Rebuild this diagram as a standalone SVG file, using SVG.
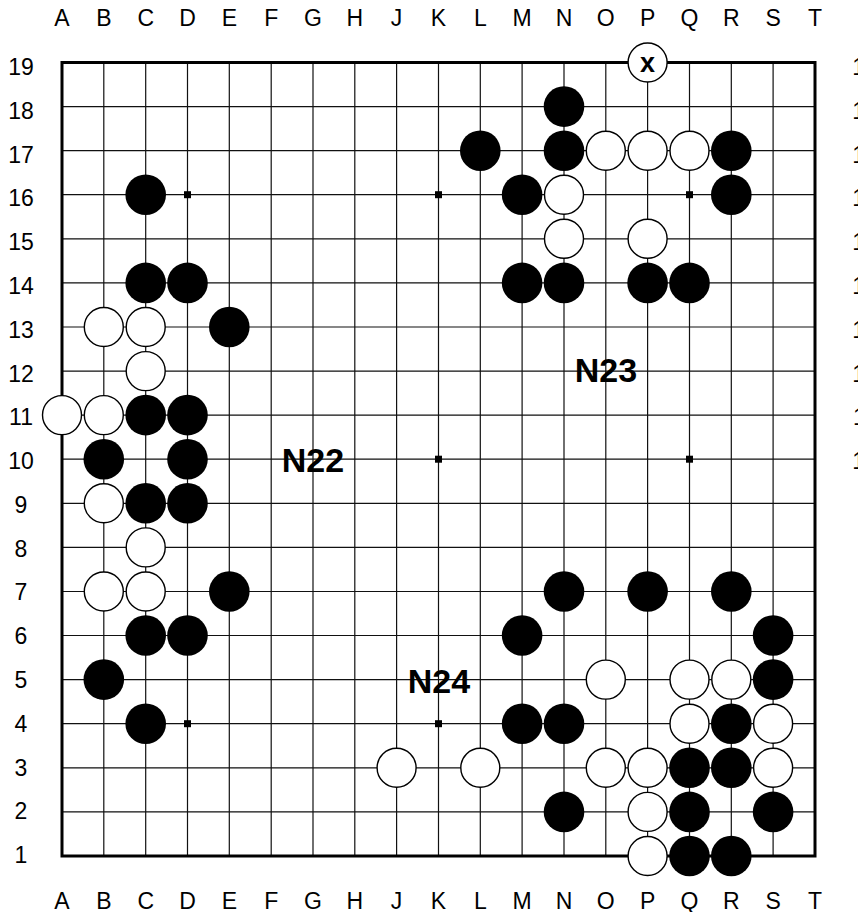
<svg xmlns="http://www.w3.org/2000/svg" width="858" height="912" viewBox="0 0 858 912">
<style>
.g{stroke:#111;stroke-width:1.2;fill:none}
.bd{stroke:#000;stroke-width:3;fill:none}
.b{fill:#000}
.w{fill:#fff;stroke:#000;stroke-width:1.4}
.c{font-family:"Liberation Sans",Arial,sans-serif;font-size:23px;fill:#000;text-anchor:middle}
.lb{font-family:"Liberation Sans",Arial,sans-serif;font-size:34px;font-weight:bold;fill:#000;text-anchor:middle}
.x{font-family:"Liberation Sans",Arial,sans-serif;font-size:27px;font-weight:bold;fill:#000;text-anchor:middle}
</style>
<rect width="858" height="912" fill="#fff"/>
<g id="grid" class="g">
<path d="M103.8 62.5V856M145.7 62.5V856M187.5 62.5V856M229.3 62.5V856M271.2 62.5V856M313 62.5V856M354.8 62.5V856M396.6 62.5V856M438.5 62.5V856M480.3 62.5V856M522.1 62.5V856M564 62.5V856M605.8 62.5V856M647.6 62.5V856M689.5 62.5V856M731.3 62.5V856M773.1 62.5V856"/>
<path d="M62 106.6H815M62 150.7H815M62 194.7H815M62 238.8H815M62 282.9H815M62 327H815M62 371.1H815M62 415.1H815M62 459.2H815M62 503.3H815M62 547.4H815M62 591.5H815M62 635.5H815M62 679.6H815M62 723.7H815M62 767.8H815M62 811.9H815"/>
</g>
<rect id="border" class="bd" x="62" y="62.5" width="753" height="793.5"/>
<g id="hoshi" class="b">
<rect x="184" y="191.2" width="7" height="7"/>
<rect x="435" y="191.2" width="7" height="7"/>
<rect x="686" y="191.2" width="7" height="7"/>
<rect x="184" y="455.7" width="7" height="7"/>
<rect x="435" y="455.7" width="7" height="7"/>
<rect x="686" y="455.7" width="7" height="7"/>
<rect x="184" y="720.2" width="7" height="7"/>
<rect x="435" y="720.2" width="7" height="7"/>
<rect x="686" y="720.2" width="7" height="7"/>
</g>
<g id="black-stones" class="b">
<circle cx="564" cy="106.6" r="20.3"/>
<circle cx="480.3" cy="150.7" r="20.3"/>
<circle cx="564" cy="150.7" r="20.3"/>
<circle cx="731.3" cy="150.7" r="20.3"/>
<circle cx="145.7" cy="194.7" r="20.3"/>
<circle cx="522.1" cy="194.7" r="20.3"/>
<circle cx="731.3" cy="194.7" r="20.3"/>
<circle cx="145.7" cy="282.9" r="20.3"/>
<circle cx="187.5" cy="282.9" r="20.3"/>
<circle cx="522.1" cy="282.9" r="20.3"/>
<circle cx="564" cy="282.9" r="20.3"/>
<circle cx="647.6" cy="282.9" r="20.3"/>
<circle cx="689.5" cy="282.9" r="20.3"/>
<circle cx="229.3" cy="327" r="20.3"/>
<circle cx="145.7" cy="415.1" r="20.3"/>
<circle cx="187.5" cy="415.1" r="20.3"/>
<circle cx="103.8" cy="459.2" r="20.3"/>
<circle cx="187.5" cy="459.2" r="20.3"/>
<circle cx="145.7" cy="503.3" r="20.3"/>
<circle cx="187.5" cy="503.3" r="20.3"/>
<circle cx="229.3" cy="591.5" r="20.3"/>
<circle cx="564" cy="591.5" r="20.3"/>
<circle cx="647.6" cy="591.5" r="20.3"/>
<circle cx="731.3" cy="591.5" r="20.3"/>
<circle cx="145.7" cy="635.5" r="20.3"/>
<circle cx="187.5" cy="635.5" r="20.3"/>
<circle cx="522.1" cy="635.5" r="20.3"/>
<circle cx="773.1" cy="635.5" r="20.3"/>
<circle cx="103.8" cy="679.6" r="20.3"/>
<circle cx="773.1" cy="679.6" r="20.3"/>
<circle cx="145.7" cy="723.7" r="20.3"/>
<circle cx="522.1" cy="723.7" r="20.3"/>
<circle cx="564" cy="723.7" r="20.3"/>
<circle cx="731.3" cy="723.7" r="20.3"/>
<circle cx="689.5" cy="767.8" r="20.3"/>
<circle cx="731.3" cy="767.8" r="20.3"/>
<circle cx="564" cy="811.9" r="20.3"/>
<circle cx="689.5" cy="811.9" r="20.3"/>
<circle cx="773.1" cy="811.9" r="20.3"/>
<circle cx="689.5" cy="856" r="20.3"/>
<circle cx="731.3" cy="856" r="20.3"/>
</g>
<g id="white-stones" class="w">
<circle cx="647.6" cy="62.5" r="19.5"/>
<circle cx="605.8" cy="150.7" r="19.5"/>
<circle cx="647.6" cy="150.7" r="19.5"/>
<circle cx="689.5" cy="150.7" r="19.5"/>
<circle cx="564" cy="194.7" r="19.5"/>
<circle cx="564" cy="238.8" r="19.5"/>
<circle cx="647.6" cy="238.8" r="19.5"/>
<circle cx="103.8" cy="327" r="19.5"/>
<circle cx="145.7" cy="327" r="19.5"/>
<circle cx="145.7" cy="371.1" r="19.5"/>
<circle cx="62" cy="415.1" r="19.5"/>
<circle cx="103.8" cy="415.1" r="19.5"/>
<circle cx="103.8" cy="503.3" r="19.5"/>
<circle cx="145.7" cy="547.4" r="19.5"/>
<circle cx="103.8" cy="591.5" r="19.5"/>
<circle cx="145.7" cy="591.5" r="19.5"/>
<circle cx="605.8" cy="679.6" r="19.5"/>
<circle cx="689.5" cy="679.6" r="19.5"/>
<circle cx="731.3" cy="679.6" r="19.5"/>
<circle cx="689.5" cy="723.7" r="19.5"/>
<circle cx="773.1" cy="723.7" r="19.5"/>
<circle cx="396.6" cy="767.8" r="19.5"/>
<circle cx="480.3" cy="767.8" r="19.5"/>
<circle cx="605.8" cy="767.8" r="19.5"/>
<circle cx="647.6" cy="767.8" r="19.5"/>
<circle cx="773.1" cy="767.8" r="19.5"/>
<circle cx="647.6" cy="811.9" r="19.5"/>
<circle cx="647.6" cy="856" r="19.5"/>
</g>
<text class="x" x="647.6" y="72">x</text>
<g id="labels">
<text class="lb" x="313" y="471.5">N22</text>
<text class="lb" x="606" y="381.7">N23</text>
<text class="lb" x="439" y="692.5">N24</text>
</g>
<g id="coords-top" class="c">
<text x="62" y="26">A</text><text x="103.8" y="26">B</text><text x="145.7" y="26">C</text><text x="187.5" y="26">D</text><text x="229.3" y="26">E</text><text x="271.2" y="26">F</text><text x="313" y="26">G</text><text x="354.8" y="26">H</text><text x="396.6" y="26">J</text><text x="438.5" y="26">K</text><text x="480.3" y="26">L</text><text x="522.1" y="26">M</text><text x="564" y="26">N</text><text x="605.8" y="26">O</text><text x="647.6" y="26">P</text><text x="689.5" y="26">Q</text><text x="731.3" y="26">R</text><text x="773.1" y="26">S</text><text x="815" y="26">T</text>
</g>
<g id="coords-bottom" class="c">
<text x="62" y="908.5">A</text><text x="103.8" y="908.5">B</text><text x="145.7" y="908.5">C</text><text x="187.5" y="908.5">D</text><text x="229.3" y="908.5">E</text><text x="271.2" y="908.5">F</text><text x="313" y="908.5">G</text><text x="354.8" y="908.5">H</text><text x="396.6" y="908.5">J</text><text x="438.5" y="908.5">K</text><text x="480.3" y="908.5">L</text><text x="522.1" y="908.5">M</text><text x="564" y="908.5">N</text><text x="605.8" y="908.5">O</text><text x="647.6" y="908.5">P</text><text x="689.5" y="908.5">Q</text><text x="731.3" y="908.5">R</text><text x="773.1" y="908.5">S</text><text x="815" y="908.5">T</text>
</g>
<g id="coords-left" class="c">
<text x="21" y="75">19</text><text x="21" y="118.8">18</text><text x="21" y="162.6">17</text><text x="21" y="206.3">16</text><text x="21" y="250.1">15</text><text x="21" y="293.9">14</text><text x="21" y="337.7">13</text><text x="21" y="381.5">12</text><text x="21" y="425.2">11</text><text x="21" y="469">10</text><text x="21" y="512.8">9</text><text x="21" y="556.6">8</text><text x="21" y="600.4">7</text><text x="21" y="644.1">6</text><text x="21" y="687.9">5</text><text x="21" y="731.7">4</text><text x="21" y="775.5">3</text><text x="21" y="819.3">2</text><text x="21" y="863">1</text>
</g>
<g id="coords-right" class="c">
<text x="865" y="75">19</text><text x="865" y="118.8">18</text><text x="865" y="162.6">17</text><text x="865" y="206.3">16</text><text x="865" y="250.1">15</text><text x="865" y="293.9">14</text><text x="865" y="337.7">13</text><text x="865" y="381.5">12</text><text x="865" y="425.2">11</text><text x="865" y="469">10</text><text x="865" y="512.8">9</text><text x="865" y="556.6">8</text><text x="865" y="600.4">7</text><text x="865" y="644.1">6</text><text x="865" y="687.9">5</text><text x="865" y="731.7">4</text><text x="865" y="775.5">3</text><text x="865" y="819.3">2</text><text x="865" y="863">1</text>
</g>
</svg>
